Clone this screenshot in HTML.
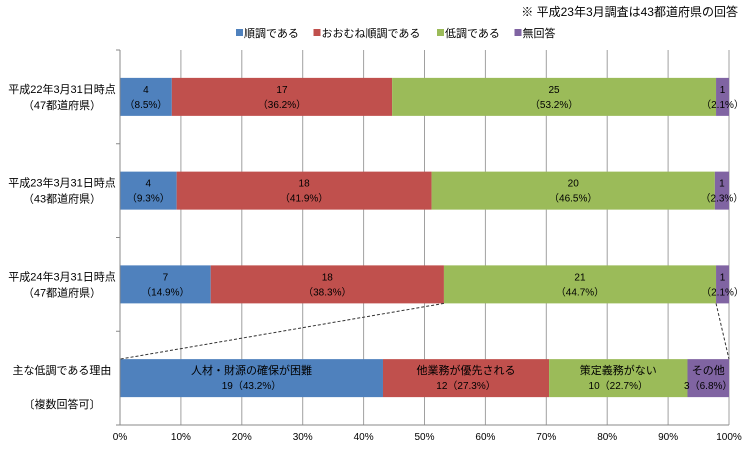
<!DOCTYPE html>
<html><head><meta charset="utf-8">
<style>
body{margin:0;background:#fff;}
svg{display:block;font-family:"Liberation Sans","Noto Sans CJK JP",sans-serif;}
</style></head>
<body>
<svg id="chart" width="750" height="450">
<text x="738" y="16" font-size="12" text-anchor="end" fill="#000">※ 平成23年3月調査は43都道府県の回答</text>
<g id="legend"></g>
<g id="grid"></g>
<g id="bars"></g>
<g id="axis"></g>
</svg>
<script>
const rowLabels1=["平成22年3月31日時点","平成23年3月31日時点","平成24年3月31日時点","主な低調である理由"];
const rowLabels2=["（47都道府県）","（43都道府県）","（47都道府県）","〔複数回答可〕"];
const seriesNames=["順調である","おおむね順調である","低調である","無回答"];
const row1=[4,17,25,1];
const row2=[4,18,20,1];
const row3=[7,18,21,1];
const row4=[19,12,10,3];
const pct1=["8.5%","36.2%","53.2%","2.1%"];
const pct2=["9.3%","41.9%","46.5%","2.3%"];
const pct3=["14.9%","38.3%","44.7%","2.1%"];
const pct4=["43.2%","27.3%","22.7%","6.8%"];
const reasonNames=["人材・財源の確保が困難","他業務が優先される","策定義務がない","その他"];
const xTicks=[0,10,20,30,40,50,60,70,80,90,100];
const colors=["#4f81bd","#c0504d","#9bbb59","#8064a2"];
const NS="http://www.w3.org/2000/svg";
const X0=120,X1=729,Ytop=50,Ybot=425,rowH=93.75,barH=38;
const xs=p=>X0+(X1-X0)*p/100;
const rowY=i=>Ytop+rowH*i+rowH/2;
function mk(tag,attrs,parent,txt){const e=document.createElementNS(NS,tag);for(const k in attrs)e.setAttribute(k,attrs[k]);if(txt!==undefined)e.textContent=txt;parent.appendChild(e);return e;}
const grid=document.getElementById('grid'),bars=document.getElementById('bars'),axis=document.getElementById('axis'),legend=document.getElementById('legend');
xTicks.forEach(t=>{
  if(t>0){const l=mk('line',{x1:xs(t),x2:xs(t),y1:Ytop,y2:Ybot,stroke:'#a0a0a0','stroke-width':1},grid);
  
  }
  const tx=mk('text',{x:xs(t),y:Ybot+15,'font-size':10,'text-anchor':'middle',fill:'#000'},axis,t+'%');
  
  
});
mk('line',{x1:X0,x2:X0,y1:Ytop,y2:Ybot,stroke:'#888'},axis);
mk('line',{x1:X0,x2:X1,y1:Ybot,y2:Ybot,stroke:'#888'},axis);
for(let i=0;i<=4;i++){mk('line',{x1:X0-4,x2:X0,y1:Ytop+rowH*i,y2:Ytop+rowH*i,stroke:'#888'},axis);}
const rows=[row1,row2,row3,row4],pcts=[pct1,pct2,pct3,pct4];
const edges=[];
rows.forEach((vals,r)=>{
  const tot=vals.reduce((a,b)=>a+b,0);
  let cum=0;const cy=rowY(r),y=cy-barH/2;edges.push([]);
  vals.forEach((v,s)=>{
    const a=xs(cum/tot*100);cum+=v;const b=xs(cum/tot*100);
    edges[r].push(b);
    const rc=mk('rect',{x:a,y:y,width:b-a,height:barH,fill:colors[s]},bars);
    
    
    const mx=(a+b)/2;
    const line1=r<3?String(v):reasonNames[s];
    const line2=r<3?'（'+pcts[r][s]+'）':v+'（'+pcts[r][s]+'）';
    mk('text',{x:mx,y:cy-4,'font-size':r<3?10:11,'text-anchor':'middle',fill:'#000'},bars,line1);
    mk('text',{x:mx,y:cy+11,'font-size':10,'text-anchor':'middle',fill:'#000'},bars,line2);
  });
  const l1=mk('text',{x:62,y:cy-4,'font-size':11,'text-anchor':'middle',fill:'#000'},axis,rowLabels1[r]);
  
  
  mk('text',{x:62,y:cy+(r<3?12:30),'font-size':11,'text-anchor':'middle',fill:'#000'},axis,rowLabels2[r]);
});
const y3b=rowY(2)+barH/2,y4t=rowY(3)-barH/2;
mk('line',{x1:edges[2][1],y1:y3b,x2:X0,y2:y4t,stroke:'#333','stroke-dasharray':'3,2'},bars);
mk('line',{x1:edges[2][2],y1:y3b,x2:X1,y2:y4t,stroke:'#333','stroke-dasharray':'3,2'},bars);
let lx=236;
seriesNames.forEach((n,i)=>{
  const g=mk('g',{},legend);
  
  
  mk('rect',{x:lx,y:29,width:7,height:7,fill:colors[i]},g);
  mk('text',{x:lx+8,y:37,'font-size':11,fill:'#000'},g,n);
  lx+=8+n.length*11.5+12;
});
</script>
</body></html>
